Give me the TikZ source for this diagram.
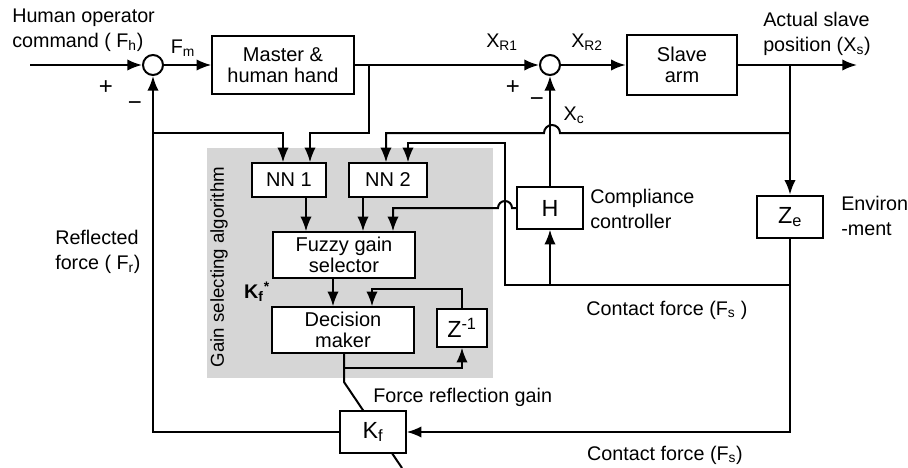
\documentclass[tikz,border=0pt]{standalone}
\usepackage{fontspec}
\setmainfont{Liberation Sans}
\usetikzlibrary{arrows.meta,backgrounds}
\tikzset{
  block/.style={draw, line width=1.5pt, fill=white, align=center, inner sep=1pt, font=\fontsize{15}{16}\selectfont},
  big block/.style={block, font=\fontsize{17.5}{18}\selectfont},
  sum/.style={draw, circle, line width=1.5pt, fill=white, minimum size=15pt, inner sep=0pt},
  wire/.style={line width=1.5pt},
  flow/.style={wire, -{Latex[length=11pt,width=8.5pt]}},
  sig label/.style={align=left, inner sep=0pt, font=\fontsize{14.8}{19}\selectfont},
  sign/.style={inner sep=0pt, font=\fontsize{18}{18}\selectfont},
  shade box/.style={fill=black!16}
}

\begin{document}
\begin{tikzpicture}[x=0.75pt,y=0.75pt]
  \useasboundingbox (0,0) rectangle (908,-468);
  \begin{scope}[on background layer]
    \fill[shade box] (207,-148) rectangle (493,-378);
  \end{scope}
  \node[rotate=90, inner sep=0pt, font=\fontsize{14}{16}\selectfont] (gsa) at (219,-267) {Gain selecting algorithm};

  \coordinate (fhin) at (30,-65);
  \coordinate (xsout) at (857,-65);
  \coordinate (gainout) at (402,-468);

  \node[sum] (sum1) at (153,-65) {};
  \node[block, minimum width=106pt, minimum height=44pt] (master) at (283,-65) {Master \&\\human hand};
  \node[sum] (sum2) at (550,-65) {};
  \node[block, minimum width=83pt, minimum height=45pt] (slave) at (682,-65) {Slave\\arm};

  \node[block, minimum width=55pt, minimum height=25pt] (nn1) at (289,-180) {NN 1};
  \node[block, minimum width=58pt, minimum height=25pt] (nn2) at (388,-180) {NN 2};
  \node[block, minimum width=106pt, minimum height=34pt] (fuzzy) at (344,-255) {Fuzzy gain\\selector};
  \node[block, minimum width=107pt, minimum height=34pt] (decision) at (343,-330) {Decision\\maker};
  \node[big block, minimum width=37pt, minimum height=28pt] (delay) at (462,-328) {Z\textsuperscript{-1}};

  \node[big block, minimum width=49pt, minimum height=31pt] (comp) at (550,-208) {H};
  \node[big block, minimum width=49pt, minimum height=32pt] (env) at (790,-217) {Z\textsubscript{e}};
  \node[big block, minimum width=49pt, minimum height=32pt] (gain) at (373,-432) {K\textsubscript{f}};

  \draw[flow] (fhin) -- (sum1);
  \draw[flow] (sum1) -- (master);
  \draw[flow] (master) -- (sum2);
  \draw[flow] (sum2) -- (slave);
  \draw[flow] (slave) -- (xsout);
  \draw[flow] (slave.east -| env) -- (env.north);

  \draw[flow] (master.east -| 369,0) -- (369,-133) -- (310,-133) -- (nn1.north -| 310,0);
  \draw[flow] (env.south) -- (790,-432) -- (gain.east);
  \draw[flow] (gain.west) -- (153,-432) -- (sum1.south);
  \draw[flow] (153,-133) -- (283,-133) -- (nn1.north -| 283,0);

  \draw[flow] (790,-133) -- (560,-133) arc (0:180:8) -- (386,-133) -- (nn2.north -| 386,0);
  \draw[flow] (790,-285) -- (505,-285) -- (505,-143) -- (408,-143) -- (nn2.north -| 408,0);
  \draw[flow] (comp.south |- 0,-285) -- (comp.south);
  \draw[flow] (comp.north) -- (sum2.south);
  \draw[flow] (comp.west) -- (512,-208) arc (0:180:7) -- (393,-208) -- (fuzzy.north -| 393,0);

  \draw[flow] (nn1.south -| 306,0) -- (fuzzy.north -| 306,0);
  \draw[flow] (nn2.south -| 363,0) -- (fuzzy.north -| 363,0);
  \draw[flow] (fuzzy.south -| 333,0) -- (decision.north -| 333,0);
  \draw[flow] (delay.north) -- (462,-289) -- (372,-289) -- (decision.north -| 372,0);
  \draw[flow] (decision.south -| 344,0) -- (344,-368) -- (462,-368) -- (delay.south);
  \begin{scope}[on background layer]
    \draw[wire] (decision.south -| 344,0) -- (344,-382) -- (gainout);
  \end{scope}

  \node[sig label, anchor=west] (fhlabel) at (12,-30) {Human operator\\command ( F\textsubscript{h})};
  \node[sig label] (fmlabel) at (183,-48) {F\textsubscript{m}};
  \node[sign] (plus1) at (106,-88) {+};
  \node[sign] (minus1) at (135,-106) {−};
  \node[sig label] (xr1label) at (502,-42) {X\textsubscript{R1}};
  \node[sig label] (xr2label) at (587,-42) {X\textsubscript{R2}};
  \node[sign] (plus2) at (513,-88) {+};
  \node[sign] (minus2) at (537,-102) {−};
  \node[sig label] (xclabel) at (574,-115) {X\textsubscript{c}};
  \node[sig label, anchor=west] (xslabel) at (763,-34) {Actual slave\\position (X\textsubscript{s})};
  \node[sig label, anchor=west] (hlabel) at (590,-209) {Compliance\\controller};
  \node[sig label, anchor=west] (envlabel) at (841,-216) {Environ\\-ment};
  \node[sig label, anchor=west] (frlabel) at (55,-252) {Reflected\\force ( F\textsubscript{r})};
  \node[sig label] (fs1label) at (667,-310) {Contact force (F\textsubscript{s} )};
  \node[sig label] (fs2label) at (665,-455) {Contact force (F\textsubscript{s})};
  \node[sig label, anchor=west] (kflabel) at (373,-397) {Force reflection gain};
  \node[sig label] (kstar) at (257,-292) {\textbf{K}\textsubscript{\textbf{f}}\textsuperscript{\textbf{*}}};
\end{tikzpicture}
\end{document}
